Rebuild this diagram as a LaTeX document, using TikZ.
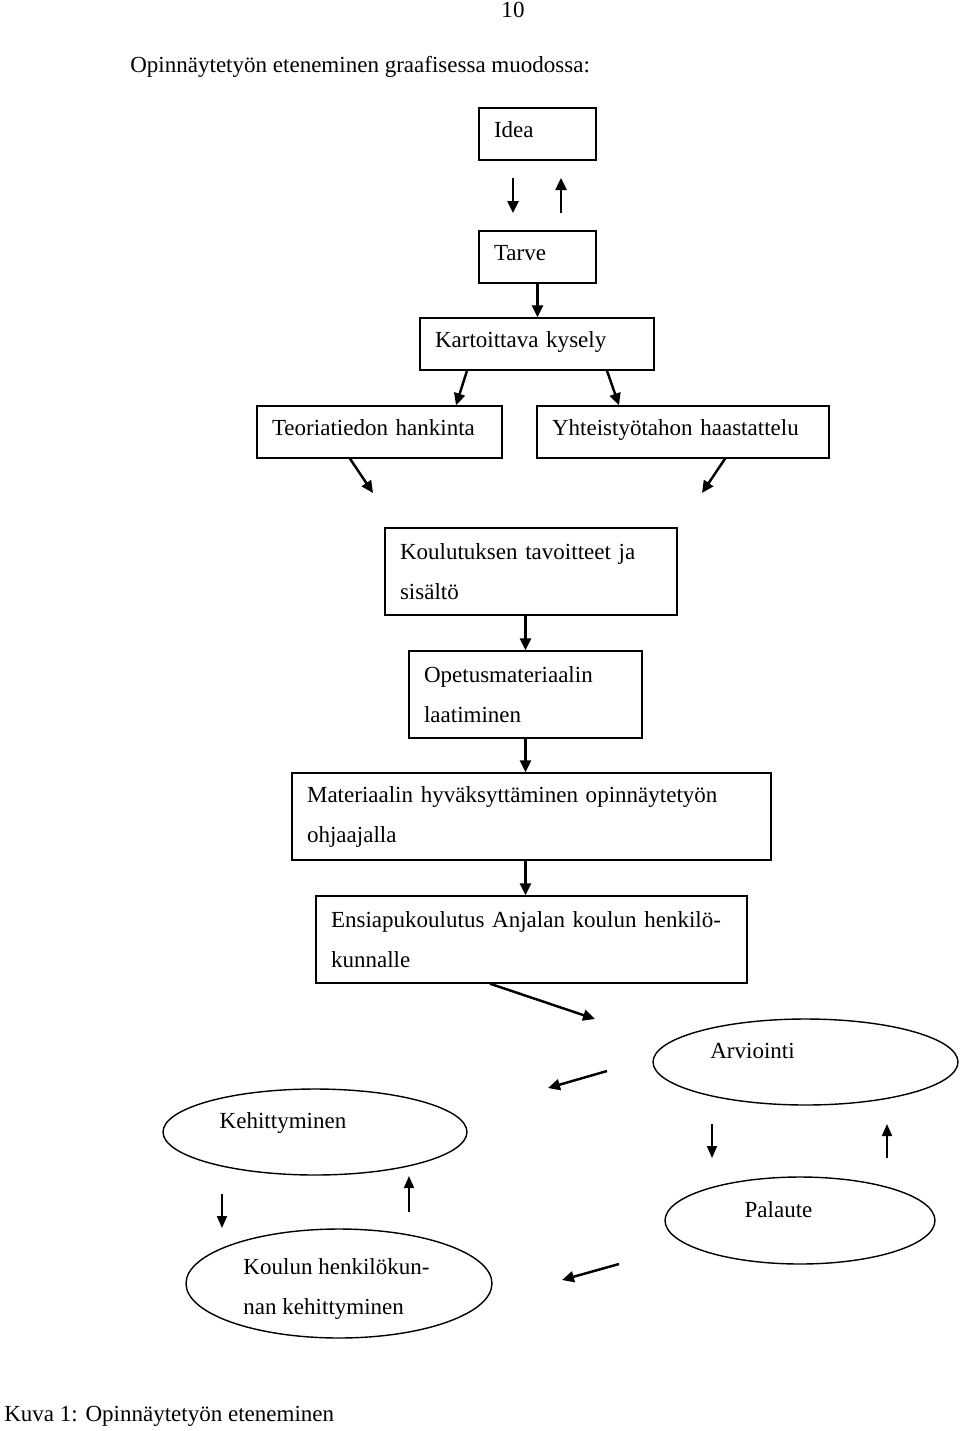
\documentclass[tikz,border=0pt]{standalone}
\usepackage{fontspec}
\setmainfont{Liberation Serif}
\usetikzlibrary{arrows.meta,shapes.geometric,positioning}

\begin{document}
\begin{tikzpicture}[x=0.02cm, y=-0.02cm, font=\fontsize{13.1}{22.8}\selectfont,
  box/.style={rectangle, draw, line width=0.8pt, align=left, inner xsep=0.3cm, inner ysep=0pt},
  rivi/.style={box, minimum height=1.04cm, text height=9pt, text depth=5pt},
  kaksi/.style={box, minimum height=1.74cm},
  soikio/.style={ellipse, draw, line width=0.8pt, inner sep=0pt},
  nuoli/.style={line width=1.4pt, -{Triangle[length=2.4mm, width=2.2mm]}},
  ohut/.style={line width=1.1pt, -{Triangle[length=2.4mm, width=2mm]}}]

  \useasboundingbox (0,0) rectangle (960,1431);

  \node (sivu) at (513,10) {10};
  \node[anchor=west, inner sep=0pt] (otsikko) at (130,67) {Opinnäytetyön eteneminen graafisessa muodossa:};

  \node[rivi, text width=1.74cm] (idea) at (537.5,134) {Idea};
  \node[rivi, text width=1.74cm] (tarve) at (537.5,257) {Tarve};
  \node[rivi, text width=4.08cm] (kysely) at (537,344) {Kartoittava kysely};
  \node[rivi, text width=4.3cm] (teoria) at (379.5,432) {Teoriatiedon hankinta};
  \node[rivi, text width=5.24cm] (haastattelu) at (683,432) {Yhteistyötahon haastattelu};
  \node[kaksi, text width=5.24cm] (koulutus) at (531,571.5) {Koulutuksen tavoitteet ja\\sisältö};
  \node[kaksi, text width=4.06cm] (opetus) at (525.5,694.5) {Opetusmateriaalin\\laatiminen};
  \node[kaksi, text width=8.98cm] (materiaali) at (531.5,816.5) {Materiaalin hyväksyttäminen opinnäytetyön\\ohjaajalla};
  \node[kaksi, text width=8.02cm] (ensiapu) at (531.5,939.5) {Ensiapukoulutus Anjalan koulun henkilö-\\kunnalle};

  \node[soikio, minimum width=6.1cm, minimum height=1.72cm,
    label={[xshift=-1.06cm, yshift=0.22cm]center:Arviointi}] (arviointi) at (805.5,1062) {};
  \node[soikio, minimum width=6.08cm, minimum height=1.72cm,
    label={[xshift=-0.64cm, yshift=0.18cm]center:Kehittyminen}] (kehitys) at (315,1132) {};
  \node[soikio, minimum width=5.4cm, minimum height=1.74cm,
    label={[xshift=-0.43cm, yshift=0.21cm]center:Palaute}] (palaute) at (800,1220.5) {};
  \node[soikio, minimum width=6.12cm, minimum height=2.18cm,
    label={[align=left, xshift=-0.05cm, yshift=-0.11cm]center:Koulun henkilökun-\\nan kehittyminen}] (henkilokunta) at (339,1283.5) {};

  \node[anchor=west, inner sep=0pt] (kuva) at (4,1416) {Kuva 1: Opinnäytetyön eteneminen};

  % vapaat nuolet
  \coordinate (ia) at (513,178);
  \coordinate (ib) at (513,213);
  \coordinate (ta) at (561,213);
  \coordinate (tb) at (561,178);
  \coordinate (tk) at (373,493);
  \coordinate (hk) at (702,493);
  \coordinate (ea) at (595,1019);
  \coordinate (aa) at (607,1071);
  \coordinate (ab) at (548,1088);
  \coordinate (pa) at (712,1124);
  \coordinate (pb) at (712,1158);
  \coordinate (pc) at (887,1158);
  \coordinate (pd) at (887,1124);
  \coordinate (ka) at (222,1194);
  \coordinate (kb) at (222,1228);
  \coordinate (kc) at (409,1212);
  \coordinate (kd) at (409,1176);
  \coordinate (ha) at (619,1264);
  \coordinate (hb) at (562,1280);

  \draw[nuoli] (ia) -- (ib);
  \draw[nuoli] (ta) -- (tb);
  \draw[nuoli] (tarve.south) -- (tarve.south |- kysely.north);
  \draw[nuoli] ([xshift=-1.4cm]kysely.south) -- ([xshift=1.53cm]teoria.north);
  \draw[nuoli] ([xshift=1.4cm]kysely.south) -- ([xshift=-1.28cm]haastattelu.north);
  \draw[nuoli] ([xshift=-0.59cm]teoria.south) -- (tk);
  \draw[nuoli] ([xshift=0.84cm]haastattelu.south) -- (hk);
  \draw[nuoli] (koulutus.south -| opetus.north) -- (opetus.north);
  \draw[nuoli] (opetus.south) -- (opetus.south |- materiaali.north);
  \draw[nuoli] (materiaali.south -| opetus.south) -- (ensiapu.north -| opetus.south);
  \draw[nuoli] ([xshift=-0.83cm]ensiapu.south) -- (ea);
  \draw[nuoli] (aa) -- (ab);
  \draw[ohut] (pa) -- (pb);
  \draw[ohut] (pc) -- (pd);
  \draw[ohut] (ka) -- (kb);
  \draw[ohut] (kc) -- (kd);
  \draw[nuoli] (ha) -- (hb);
\end{tikzpicture}
\end{document}
